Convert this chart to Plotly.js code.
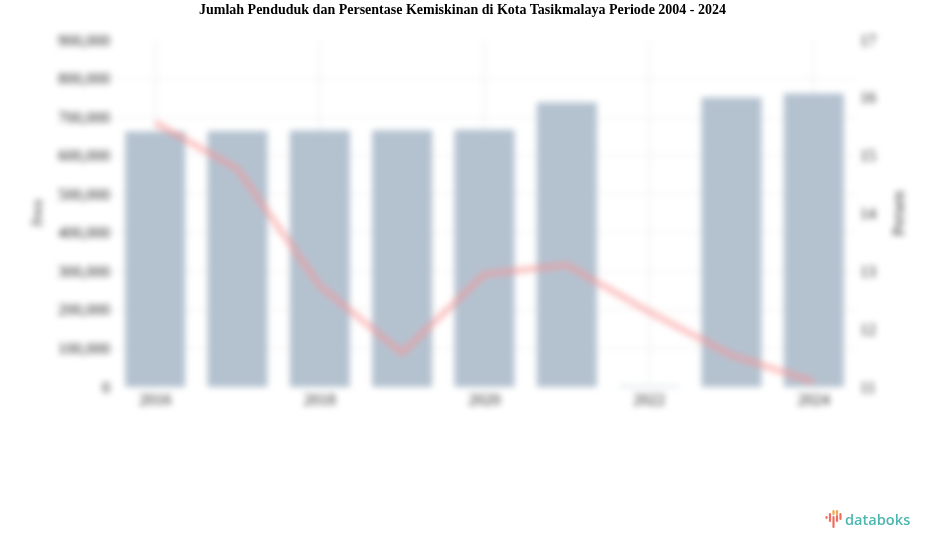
<!DOCTYPE html>
<html>
<head>
<meta charset="utf-8">
<script src="https://cdn.plot.ly/plotly-3.0.1.min.js"></script>
<style>
html,body{margin:0;padding:0;background:#fff;width:925px;height:547px;overflow:hidden}
#chart{position:absolute;left:0;top:0;width:925px;height:547px}
#chart .cartesianlayer, #chart .ytitle, #chart .y2title{filter:blur(3.1px)}
#logo{position:absolute;left:825px;top:508px;display:flex;align-items:center;height:22px}
#logo span{font:600 14.6px "Open Sans","Noto Sans",sans-serif;color:#4db6b0;line-height:20px}
</style>
</head>
<body>
<div id="chart"></div>
<div id="logo"><svg width="20" height="22" viewBox="0 0 20 22">
<g stroke-width="2.200" stroke-linecap="round">
<path d="M1.500 9V10" stroke="#ef6f5e"/><path d="M5 6V13" stroke="#ef6f5e"/><path d="M8.500 9V19" stroke="#ef6f5e"/>
<path d="M8.500 3V6" stroke="#f4a74a"/><path d="M12 3V6" stroke="#f4a74a"/><path d="M12 8V13" stroke="#ef6f5e"/><path d="M15.500 6V11" stroke="#ef6f5e"/></g></svg><span>databoks</span></div>
<script>
const years = ['2016','2017','2018','2019','2020','2021','2022','2023','2024'];
const penduduk = [663000,664000,665000,666000,667000,738000,2500,751000,761000];
const persen = [15.57,14.77,12.75,11.59,12.95,13.11,12.3,11.55,11.09];
const tickYears = ['2016','2018','2020','2022','2024'];
const titleText = 'Jumlah Penduduk dan Persentase Kemiskinan di Kota Tasikmalaya Periode 2004 - 2024';
const sf = '"Liberation Serif","Times New Roman",serif';

Plotly.newPlot('chart', [
  {type:'bar', x:years, y:penduduk, name:'Jiwa', marker:{color:'#b4c2d0'}},
  {type:'scatter', mode:'lines', x:years, y:persen, name:'Persen', yaxis:'y2',
   line:{color:'rgba(250,150,150,0.55)', width:6.5}}
], {
  width:925, height:547,
  margin:{l:114, r:70, t:40, b:160},
  paper_bgcolor:'#fff', plot_bgcolor:'#fff',
  showlegend:false, bargap:0.27,
  title:{text:'<b>'+titleText+'</b>', font:{family:sf, size:14, color:'#000'}, x:0.5, xanchor:'center', y:0.983, yanchor:'middle'},
  xaxis:{type:'category', tickmode:'array', tickvals:tickYears, ticktext:tickYears, showgrid:true, gridcolor:'#e4e4e4', gridwidth:1,
         tickfont:{family:sf,size:16,color:'#222'}, ticks:'', ticklabelstandoff:1, zeroline:false, automargin:false},
  yaxis:{range:[0,900000], tickvals:[0,100000,200000,300000,400000,500000,600000,700000,800000,900000],
         tickformat:',d', showgrid:true, gridcolor:'#ececec', zeroline:false,
         tickfont:{family:sf,size:16,color:'#222'}, ticklen:0, ticklabelstandoff:3, automargin:false,
         title:{text:'Jiwa', font:{family:sf,size:15,color:'#222'}, standoff:12}},
  yaxis2:{overlaying:'y', side:'right', range:[11,17], tickvals:[11,12,13,14,15,16,17], showgrid:false, zeroline:false,
         tickfont:{family:sf,size:16,color:'#222'}, ticklabelstandoff:4, automargin:false,
         title:{text:'Persen', font:{family:sf,size:17,color:'#222'}, standoff:16}}
}, {displayModeBar:false, staticPlot:true});
</script>
</body>
</html>
